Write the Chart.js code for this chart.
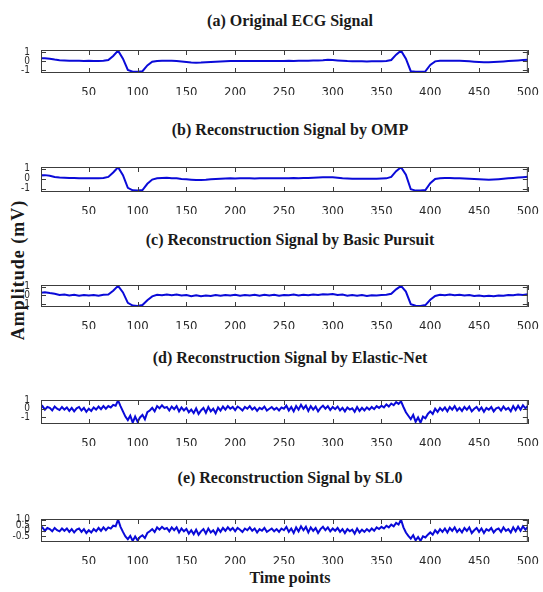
<!DOCTYPE html>
<html>
<head>
<meta charset="utf-8">
<script src="https://cdn.jsdelivr.net/npm/chart.js@4.4.1/dist/chart.umd.min.js"></script>
<style>
  body { margin: 0; width: 543px; height: 592px; background: #fff; position: relative; overflow: hidden; }
  canvas { position: absolute; left: 0; }
  .title { position: absolute; left: 0; width: 580px; text-align: center; font: bold 16px "Liberation Serif", serif; color: #1a1a1a; line-height: 18px; white-space: nowrap; }
  #ylabel { position: absolute; left: 18px; top: 270px; transform: translate(-50%, -50%) rotate(-90deg); font: bold 18px "Liberation Serif", serif; letter-spacing: 1px; color: #1a1a1a; white-space: nowrap; }
</style>
</head>
<body>
<div class="title" style="top:12px">(a) Original ECG Signal</div>
<div class="title" style="top:121px">(b) Reconstruction Signal by OMP</div>
<div class="title" style="top:231px">(c) Reconstruction Signal by Basic Pursuit</div>
<div class="title" style="top:349px">(d) Reconstruction Signal by Elastic-Net</div>
<div class="title" style="top:469px">(e) Reconstruction Signal by SL0</div>
<div class="title" style="top:569px">Time points</div>
<div id="ylabel">Amplitude (mV)</div>

<canvas id="pa" width="543" height="54" style="top:41px"></canvas>
<canvas id="pb" width="543" height="56" style="top:158px"></canvas>
<canvas id="pc" width="543" height="53" style="top:276px"></canvas>
<canvas id="pd" width="543" height="55" style="top:391px"></canvas>
<canvas id="pe" width="543" height="54" style="top:510px"></canvas>

<script>
const xTickValues = [50, 100, 150, 200, 250, 300, 350, 400, 450, 500];

// samples every 5 time points (0..500)
const smoothStep = 5;
const originalEcg = [
  0.35, 0.35, 0.3, 0.2, 0.12, 0.1, 0.08, 0.07, 0.06, 0.05,
  0.06, 0.05, 0.05, 0.06, 0.15, 0.6, 1.2, 0.3, -0.95, -1.15,
  -1.15, -1.1, -0.45, -0.05, 0.05, 0.08, 0.08, 0.06, 0.03, -0.02,
  -0.07, -0.12, -0.15, -0.14, -0.1, -0.06, -0.03, -0.01, 0.02, 0.03,
  0.04, 0.03, 0.05, 0.04, 0.03, 0.05, 0.03, 0.04, 0.05, 0.04,
  0.05, 0.06, 0.04, 0.07, 0.06, 0.08, 0.09, 0.11, 0.13, 0.17,
  0.15, 0.1, 0.06, 0.03, 0.02, 0.0, 0.0, -0.01, 0.0, 0.0,
  0.01, 0.03, 0.15, 0.75, 1.2, 0.3, -1.1, -1.15, -1.15, -1.12,
  -0.4, 0.0, 0.06, 0.08, 0.08, 0.07, 0.06, 0.04, 0.0, -0.04,
  -0.07, -0.09, -0.1, -0.08, -0.05, -0.01, 0.03, 0.07, 0.1, 0.14,
  0.18
];
const ompRecon = [
  0.33, 0.36, 0.3, 0.18, 0.12, 0.1, 0.07, 0.08, 0.05, 0.06,
  0.05, 0.06, 0.04, 0.07, 0.18, 0.62, 1.15, 0.35, -0.9, -1.15,
  -1.18, -1.12, -0.5, -0.08, 0.04, 0.07, 0.09, 0.05, 0.04, -0.02,
  -0.06, -0.1, -0.13, -0.12, -0.1, -0.05, -0.03, 0.0, 0.02, 0.04,
  0.03, 0.05, 0.04, 0.06, 0.03, 0.05, 0.04, 0.06, 0.04, 0.05,
  0.06, 0.05, 0.07, 0.06, 0.08, 0.07, 0.1, 0.12, 0.14, 0.16,
  0.14, 0.1, 0.05, 0.03, 0.01, 0.0, -0.01, 0.0, 0.01, 0.0,
  0.02, 0.04, 0.18, 0.75, 1.15, 0.4, -1.05, -1.18, -1.18, -1.12,
  -0.45, -0.02, 0.05, 0.07, 0.08, 0.06, 0.05, 0.03, 0.0, -0.03,
  -0.06, -0.08, -0.09, -0.07, -0.04, 0.0, 0.04, 0.08, 0.12, 0.16,
  0.2
];
const bpRecon = [
  0.3, 0.38, 0.28, 0.2, 0.05, 0.12, 0.0, 0.08, -0.02, 0.06,
  -0.01, 0.05, -0.03, 0.08, 0.12, 0.55, 1.1, 0.35, -0.85, -1.15,
  -1.2, -1.1, -0.55, -0.1, 0.08, 0.02, 0.12, 0.04, 0.1, 0.0,
  0.05, -0.08, 0.02, -0.1, 0.0, -0.06, 0.05, -0.04, 0.06, 0.0,
  0.08, -0.02, 0.06, 0.01, 0.09, -0.03, 0.07, 0.0, 0.08, -0.02,
  0.06, 0.02, 0.1, -0.01, 0.08, 0.03, 0.12, 0.05, 0.15, 0.1,
  0.16, 0.05, 0.1, -0.02, 0.06, -0.04, 0.04, -0.05, 0.03, 0.0,
  0.05, 0.08, 0.2, 0.7, 1.1, 0.45, -1.0, -1.18, -1.2, -1.1,
  -0.5, -0.05, 0.08, 0.02, 0.1, 0.03, 0.08, -0.01, 0.04, -0.05,
  0.0, -0.08, -0.02, -0.1, 0.0, -0.04, 0.06, 0.02, 0.1, 0.05,
  0.15
];

// samples every 2.5 time points (0..500)
const noisyStep = 2.5;
const elasticNetRecon = [
  0.0, 0.3, -0.1, 0.2,   0.1, -0.2, 0.25, 0.0,   -0.15, 0.2, -0.1, 0.15,   -0.25, 0.1, -0.3, 0.05,   0.2, -0.2, 0.1, -0.35,
  0.0, -0.25, 0.15, -0.1,   0.25, -0.05, 0.3, 0.0,   0.3, 0.15, 0.45, 0.35,   0.95, 0.3, -0.3, -0.9,   -1.3, -0.8, -1.6, -0.9,
  -1.5, -1.0, -0.7, -1.2,   -0.4, -0.2, 0.1, -0.3,   0.3, 0.05, 0.4, 0.1,   0.2, -0.2, 0.25, -0.05,   0.3, -0.3, 0.15, -0.2,
  0.1, -0.4, -0.1, -0.5,   0.05, -0.6, -0.2, 0.1,   -0.45, 0.2, -0.3, 0.0,   -0.5, 0.15, -0.2, 0.25,   -0.1, 0.3, 0.0, 0.2,
  -0.15, 0.25, 0.05, -0.2,   0.2, 0.0, 0.3, -0.1,   0.15, -0.25, 0.1, -0.05,   0.25, -0.2, 0.0, 0.2,   -0.1, 0.1, -0.2, 0.15,
  0.0, 0.35, -0.2, 0.2,   -0.3, 0.3, -0.1, 0.45,   0.0, 0.35, -0.25, 0.3,   -0.1, 0.25, -0.3, 0.1,   0.35, 0.0, 0.3, -0.15,
  0.2, -0.05, 0.25, -0.2,   0.1, -0.3, 0.15, -0.1,   0.05, -0.35, 0.2, -0.25,   0.1, -0.2, 0.15, -0.1,   0.2, -0.05, 0.3, 0.1,
  0.35, 0.15, 0.5, 0.25,   0.6, 0.4, 0.75, 0.55,   0.85, 0.2, -0.4, -0.8,   -1.2, -0.7, -1.5, -1.0,   -1.6, -0.9, -1.1, -0.6,
  -0.3, -0.6, 0.0, -0.35,   0.1, -0.2, 0.15, -0.3,   0.2, -0.1, 0.3, -0.2,   0.1, -0.25, 0.2, -0.1,   0.25, -0.3, 0.0, 0.2,
  -0.2, 0.15, -0.35, 0.1,   -0.1, 0.2, -0.3, 0.05,   0.15, -0.2, 0.25, -0.1,   0.1, -0.3, 0.3, -0.15,   0.35, -0.1, 0.4, 0.05,
  0.3
];
const sl0Recon = [
  0.1, 0.3, 0.0, 0.25,   0.15, -0.05, 0.25, 0.05,   -0.05, 0.2, 0.0, 0.2,   -0.1, 0.15, -0.15, 0.1,   0.2, -0.1, 0.15, -0.2,
  0.05, -0.15, 0.15, -0.05,   0.25, 0.0, 0.3, 0.05,   0.3, 0.2, 0.45, 0.4,   1.0, 0.35, -0.1, -0.5,   -0.75, -0.45, -0.9, -0.5,
  -0.85, -0.55, -0.4, -0.65,   -0.2, -0.05, 0.15, -0.1,   0.3, 0.1, 0.35, 0.15,   0.25, -0.05, 0.3, 0.05,   0.3, -0.15, 0.2, -0.05,
  0.15, -0.25, 0.05, -0.3,   0.1, -0.35, -0.05, 0.15,   -0.25, 0.2, -0.15, 0.05,   -0.3, 0.2, -0.1, 0.25,   0.0, 0.3, 0.05, 0.25,
  -0.05, 0.25, 0.1, -0.1,   0.2, 0.05, 0.3, 0.0,   0.2, -0.15, 0.15, 0.0,   0.25, -0.1, 0.05, 0.2,   -0.05, 0.15, -0.1, 0.2,
  0.05, 0.35, -0.1, 0.2,   -0.2, 0.3, -0.05, 0.4,   0.05, 0.35, -0.15, 0.3,   0.0, 0.25, -0.2, 0.15,   0.35, 0.05, 0.3, -0.05,
  0.2, 0.0, 0.25, -0.1,   0.15, -0.2, 0.15, -0.05,   0.1, -0.25, 0.2, -0.15,   0.1, -0.1, 0.15, -0.05,   0.2, 0.0, 0.3, 0.15,
  0.35, 0.2, 0.45, 0.3,   0.55, 0.4, 0.7, 0.55,   1.0, 0.3, -0.15, -0.45,   -0.7, -0.4, -0.85, -0.55,   -0.9, -0.5, -0.6, -0.35,
  -0.15, -0.35, 0.05, -0.2,   0.15, -0.1, 0.2, -0.15,   0.25, 0.0, 0.3, -0.1,   0.15, -0.15, 0.25, 0.0,   0.3, -0.2, 0.05, 0.25,
  -0.1, 0.2, -0.2, 0.15,   0.0, 0.25, -0.15, 0.1,   0.2, -0.1, 0.3, 0.0,   0.15, -0.15, 0.3, -0.05,   0.35, 0.0, 0.4, 0.1,
  0.35
];

const ticksEcg = [-1, 0, 1];
const ticksSl0 = [-0.5, 0, 0.5, 1];

const lineColor = '#0a0ad8';
const tickFont = { family: '"Liberation Sans Narrow", "DejaVu Sans Condensed", sans-serif', size: 13 };

// box round the plot and short inward ticks, as MATLAB draws them
const boxTicks = {
  id: 'boxTicks',
  afterDatasetsDraw(chart) {
    const { ctx, chartArea: a, scales: { x, y } } = chart;
    ctx.save();
    ctx.strokeStyle = '#3c3c3c';
    ctx.lineWidth = 1;
    ctx.strokeRect(a.left + 0.5, a.top + 0.5, a.right - a.left - 1, a.bottom - a.top - 1);
    ctx.beginPath();
    x.ticks.forEach(t => {
      const px = Math.round(x.getPixelForValue(t.value)) + 0.5;
      ctx.moveTo(px, a.top); ctx.lineTo(px, a.top + 5);
      ctx.moveTo(px, a.bottom); ctx.lineTo(px, a.bottom - 5);
    });
    y.ticks.forEach(t => {
      const py = Math.round(y.getPixelForValue(t.value)) + 0.5;
      ctx.moveTo(a.left, py); ctx.lineTo(a.left + 5, py);
      ctx.moveTo(a.right, py); ctx.lineTo(a.right - 5, py);
    });
    ctx.stroke();
    ctx.restore();
  }
};

function drawPanel(id, values, step, yMin, yMax, yTicks) {
  const points = values.map((v, i) => ({ x: i * step, y: v }));
  new Chart(document.getElementById(id), {
    type: 'line',
    data: {
      datasets: [{
        data: points,
        borderColor: lineColor,
        borderWidth: 2,
        pointRadius: 0,
        tension: 0,
        fill: false
      }]
    },
    options: {
      responsive: false,
      animation: false,
      devicePixelRatio: 1,
      layout: { padding: { left: 0, right: 8, top: 5, bottom: 0 } },
      plugins: { legend: { display: false }, tooltip: { enabled: false } },
      scales: {
        x: {
          type: 'linear',
          min: 1,
          max: 500,
          grid: { display: false },
          border: { display: false },
          afterBuildTicks: s => { s.ticks = xTickValues.map(v => ({ value: v })); },
          afterFit: s => { s.height = 22; },
          ticks: { font: tickFont, color: '#2a2a2a', padding: 4, maxRotation: 0, autoSkip: false }
        },
        y: {
          min: yMin,
          max: yMax,
          grid: { display: false },
          border: { display: false },
          afterBuildTicks: s => { s.ticks = yTicks.map(v => ({ value: v })); },
          afterFit: s => { s.width = 41; },
          ticks: { font: { family: tickFont.family, size: 10 }, color: '#2a2a2a', padding: 3, autoSkip: false }
        }
      }
    },
    plugins: [boxTicks]
  });
}

drawPanel('pa', originalEcg, smoothStep, -1.3, 1.27, ticksEcg);
drawPanel('pb', ompRecon, smoothStep, -1.32, 1.17, ticksEcg);
drawPanel('pc', bpRecon, smoothStep, -1.32, 1.2, ticksEcg);
drawPanel('pd', elasticNetRecon, noisyStep, -1.75, 1.0, ticksEcg);
drawPanel('pe', sl0Recon, noisyStep, -1.0, 1.05, ticksSl0);
</script>
</body>
</html>
